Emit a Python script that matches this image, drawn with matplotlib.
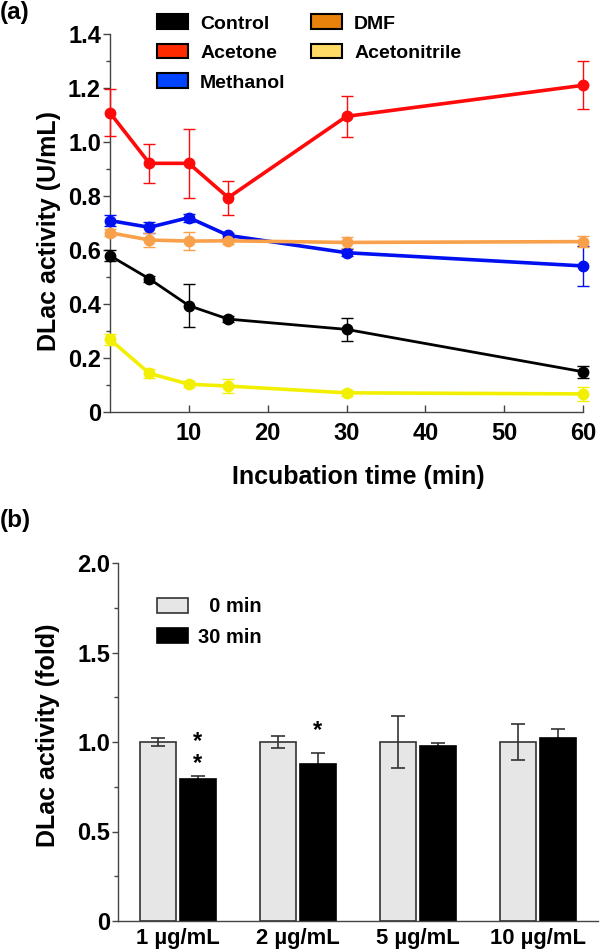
import matplotlib
matplotlib.use("Agg")
import matplotlib.pyplot as plt
from matplotlib.patches import Patch
import numpy as np

plt.rcParams['font.family'] = ['Liberation Sans', 'DejaVu Sans']
plt.rcParams['font.weight'] = 'bold'

# ---------------- Panel (a) data ----------------
time_min = [0, 5, 10, 15, 30, 60]
series_names = ["Control", "Acetone", "Methanol", "DMF", "Acetonitrile"]
control = [0.579, 0.493, 0.394, 0.344, 0.306, 0.149]
control_err = [0.02, 0.01, 0.08, 0.012, 0.043, 0.022]
acetone = [1.108, 0.921, 0.921, 0.794, 1.095, 1.210]
acetone_err = [0.087, 0.072, 0.127, 0.063, 0.075, 0.089]
methanol = [0.709, 0.684, 0.720, 0.654, 0.590, 0.541]
methanol_err = [0.02, 0.02, 0.015, 0.01, 0.012, 0.074]
dmf = [0.664, 0.637, 0.633, 0.634, 0.628, 0.631]
dmf_err = [0.012, 0.025, 0.033, 0.01, 0.02, 0.02]
acetonitrile = [0.269, 0.143, 0.103, 0.096, 0.071, 0.067]
acetonitrile_err = [0.02, 0.018, 0.012, 0.026, 0.012, 0.025]

line_colors = ["#000000", "#FF0A0A", "#0010F0", "#F9A04A", "#F2F000"]
legend_colors = ["#000000", "#FF2A00", "#0044FF", "#E8820C", "#FFD966"]
line_widths = [2.0, 2.6, 2.6, 2.6, 2.6]

a_yticks = [0, 0.2, 0.4, 0.6, 0.8, 1.0, 1.2, 1.4]
a_yticklabels = ["0", "0.2", "0.4", "0.6", "0.8", "1.0", "1.2", "1.4"]
a_xticks = [10, 20, 30, 40, 50, 60]

# ---------------- Panel (b) data ----------------
conc_labels = ["1 \u00b5g/mL", "2 \u00b5g/mL", "5 \u00b5g/mL", "10 \u00b5g/mL"]
fold_0min = [1.0, 1.0, 1.0, 1.0]
fold_0min_err = [0.024, 0.032, 0.145, 0.10]
fold_30min = [0.795, 0.877, 0.979, 1.024]
fold_30min_err = [0.013, 0.062, 0.017, 0.05]
sig_marks = ["*\n*", "*", "", ""]
sig_y = [0.94, 1.065, 0, 0]

b_yticks = [0, 0.5, 1.0, 1.5, 2.0]
b_yticklabels = ["0", "0.5", "1.0", "1.5", "2.0"]

W, H = 600, 952
fig = plt.figure(figsize=(W / 100, H / 100), dpi=100)

spine_col = "#444444"

# ---------------- Axes (a) ----------------
axa = fig.add_axes([110 / W, 1 - 412 / H, (583 - 110) / W, (412 - 34) / H])
all_y = [control, acetone, methanol, dmf, acetonitrile]
all_e = [control_err, acetone_err, methanol_err, dmf_err, acetonitrile_err]
for name, ys, es, c, lw in zip(series_names, all_y, all_e, line_colors, line_widths):
    axa.errorbar(time_min, ys, yerr=es, color=c, lw=lw, marker='o', ms=7.5,
                 elinewidth=1.0, capsize=4.5, capthick=1.0, clip_on=False,
                 zorder=3)
axa.set_xlim(0, 60)
axa.set_ylim(0, 1.4)
axa.set_yticks(a_yticks)
axa.set_yticklabels(a_yticklabels)
axa.set_yticks(np.arange(0.1, 1.4, 0.2), minor=True)
axa.set_xticks(a_xticks)
axa.set_xticklabels([str(t) for t in a_xticks])
for s in ['top', 'right']:
    axa.spines[s].set_visible(False)
for s in ['left', 'bottom']:
    axa.spines[s].set_color(spine_col)
    axa.spines[s].set_linewidth(1.0)
axa.tick_params(axis='y', which='major', direction='out', length=5, width=1,
                color=spine_col, labelsize=17, pad=1.5)
axa.tick_params(axis='y', which='minor', direction='out', length=3, width=1,
                color=spine_col)
axa.tick_params(axis='x', which='major', direction='in', length=5, width=1,
                color=spine_col, labelsize=17, pad=7)
axa.set_xlabel("Incubation time (min)", fontsize=18, fontweight='bold')
axa.xaxis.set_label_coords(0.524, -0.172)
axa.xaxis.label.set_va('center')
axa.set_ylabel("DLac activity (U/mL)", fontsize=18, fontweight='bold')
axa.yaxis.set_label_coords(-0.104, 0.48)

handles_a = [Patch(facecolor=c, edgecolor='black', lw=1.5, label=n)
             for n, c in zip(series_names, legend_colors)]
fig.legend(handles=handles_a, loc='upper left', ncol=2,
           bbox_to_anchor=(157 / W, 1 - 14.5 / H), frameon=False,
           prop={'size': 14, 'weight': 'bold'}, handlelength=1.6,
           handleheight=0.77, handletextpad=0.62, labelspacing=0.59,
           columnspacing=1.3, borderpad=0, borderaxespad=0)

fig.text(0.0, 1 - 1 / H, "(a)", fontsize=17.5, fontweight='bold', va='top', ha='left')

# ---------------- Axes (b) ----------------
axb = fig.add_axes([118 / W, 1 - 921 / H, (598 - 118) / W, (921 - 563) / H])
xpos = np.arange(len(conc_labels))
bw = 0.3
off = 0.163
axb.bar(xpos - off, fold_0min, bw, color="#E6E6E6", edgecolor="#333333",
        lw=1.2, label="  0 min", zorder=2)
axb.bar(xpos + off, fold_30min, bw, color="#000000", edgecolor="#000000",
        lw=1.2, label="30 min", zorder=2)
axb.errorbar(xpos - off, fold_0min, yerr=fold_0min_err, fmt='none',
             ecolor="#333333", elinewidth=1.2, capsize=4.7, capthick=1.2, zorder=3)
axb.errorbar(xpos + off, fold_30min, yerr=fold_30min_err, fmt='none',
             ecolor="#333333", elinewidth=1.2, capsize=4.7, capthick=1.2, zorder=1)
for xi, m, yv in zip(xpos, sig_marks, sig_y):
    if m:
        axb.text(xi + off, yv, m, ha='center', va='center', fontsize=17,
                 fontweight='bold', linespacing=0.95)
axb.set_xlim(-0.5, 3.5)
axb.set_ylim(0, 2.0)
axb.set_yticks(b_yticks)
axb.set_yticklabels(b_yticklabels)
axb.set_yticks([0.25, 0.75, 1.25, 1.75], minor=True)
axb.set_xticks(xpos)
axb.set_xticklabels(conc_labels)
for s in ['top', 'right']:
    axb.spines[s].set_visible(False)
for s in ['left', 'bottom']:
    axb.spines[s].set_color(spine_col)
    axb.spines[s].set_linewidth(1.0)
axb.tick_params(axis='y', which='major', direction='out', length=4, width=1,
                color=spine_col, labelsize=17, pad=1.5)
axb.tick_params(axis='y', which='minor', direction='out', length=3, width=1,
                color=spine_col)
axb.tick_params(axis='x', which='major', length=0, labelsize=15.8, pad=5)
axb.set_ylabel("DLac activity (fold)", fontsize=18, fontweight='bold')
axb.yaxis.set_label_coords(-0.12, 0.52)

axb.legend(loc='upper left', bbox_to_anchor=(157 / W, 1 - 597.5 / H),
           bbox_transform=fig.transFigure, frameon=False,
           prop={'size': 14.5, 'weight': 'bold'}, handlelength=1.53,
           handleheight=0.8, handletextpad=0.5, labelspacing=0.55,
           borderpad=0, borderaxespad=0)

fig.text(0.0, 1 - 509 / H, "(b)", fontsize=17.5, fontweight='bold', va='top', ha='left')

fig.savefig("out.png", dpi=100)
